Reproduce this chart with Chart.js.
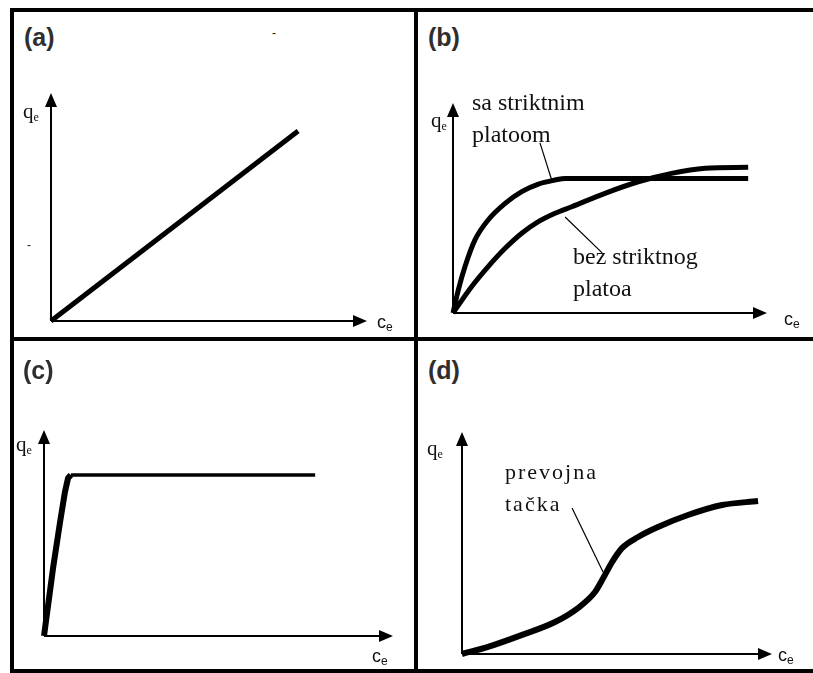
<!DOCTYPE html>
<html>
<head>
<meta charset="utf-8">
<script src="https://cdn.jsdelivr.net/npm/chart.js@4.4.1/dist/chart.umd.min.js"></script>
<style>
  html, body { margin: 0; padding: 0; background: #fff; }
  body { width: 813px; height: 673px; position: relative; overflow: hidden; }
  .rule { position: absolute; background: #000; }
  canvas { position: absolute; }
  .t { position: absolute; white-space: nowrap; color: #111; line-height: 1; }
  .tag { font-family: "Liberation Sans", Arial, sans-serif; font-weight: bold; font-size: 25px; color: #2e2e2e; }
  .note { font-family: "Liberation Serif", "Times New Roman", serif; font-size: 24px; }
  .note2 { font-family: "Liberation Serif", "Times New Roman", serif; font-size: 22px; letter-spacing: 2px; }
  .q { font-family: "Liberation Serif", "Times New Roman", serif; font-size: 21px; }
  .c { font-family: "Liberation Sans", Arial, sans-serif; font-size: 18px; }
  .q sub, .c sub { font-size: 12px; vertical-align: -3px; }
  .speck { font-family: "Liberation Sans", Arial, sans-serif; font-size: 12px; }
</style>
</head>
<body>
<!-- frame and dividers -->
<div class="rule" style="left:10px;top:8px;width:803px;height:4px"></div>
<div class="rule" style="left:10px;top:669px;width:803px;height:4px"></div>
<div class="rule" style="left:10px;top:8px;width:4px;height:665px"></div>
<div class="rule" style="left:414px;top:8px;width:4px;height:665px"></div>
<div class="rule" style="left:10px;top:337px;width:803px;height:4px"></div>

<canvas id="chartA"></canvas>
<canvas id="chartB"></canvas>
<canvas id="chartC"></canvas>
<canvas id="chartD"></canvas>

<!-- panel (a) -->
<div class="t tag" style="left:24px;top:25px">(a)</div>
<div class="t q" style="left:23px;top:101px">q<sub>e</sub></div>
<div class="t c" style="left:377px;top:313px">c<sub>e</sub></div>
<div class="t speck" style="left:272px;top:27px">-</div>
<div class="t speck" style="left:27px;top:239px">-</div>

<!-- panel (b) -->
<div class="t tag" style="left:428px;top:25px">(b)</div>
<div class="t q" style="left:431px;top:110px">q<sub>e</sub></div>
<div class="t c" style="left:784px;top:310px">c<sub>e</sub></div>
<div class="t note" style="left:472px;top:90px">sa striktnim</div>
<div class="t note" style="left:472px;top:122px">platoom</div>
<div class="t note" style="left:573px;top:244px">bez striktnog</div>
<div class="t note" style="left:573px;top:276px">platoa</div>

<!-- panel (c) -->
<div class="t tag" style="left:23px;top:358px">(c)</div>
<div class="t q" style="left:16px;top:434px">q<sub>e</sub></div>
<div class="t c" style="left:372px;top:647px">c<sub>e</sub></div>

<!-- panel (d) -->
<div class="t tag" style="left:428px;top:358px">(d)</div>
<div class="t q" style="left:427px;top:438px">q<sub>e</sub></div>
<div class="t c" style="left:778px;top:646px">c<sub>e</sub></div>
<div class="t note2" style="left:505px;top:461px">prevojna</div>
<div class="t note2" style="left:505px;top:493px">tačka</div>

<script>
// Every panel uses the same 0..100 range on both axes; the arrow tips sit at 100.
const AXIS_MAX = 100;

// (a) linear isotherm
const linearX = [0, 78.2];
const linearY = [0, 83.3];

// (b) curve with a strict plateau
const plateauX = [0, 1.7, 3.8, 7.0, 11.2, 16.6, 21.9, 27.2, 32.5, 35.7, 94.0];
const plateauY = [0, 11.0, 22.0, 34.8, 44.3, 52.2, 57.8, 61.4, 63.3, 64.1, 64.1];
// (b) curve without a strict plateau
const noPlateauX = [0, 5.9, 11.2, 16.6, 21.9, 27.2, 32.5, 37.8, 48.4, 59.0, 69.6, 80.3, 94.0];
const noPlateauY = [0, 12.5, 22.1, 30.8, 38.0, 43.5, 47.5, 50.6, 57.0, 62.5, 66.5, 68.9, 69.4];
// (b) leader lines from the two notes to their curves
const leaderPlateauX = [27.7, 31.5];
const leaderPlateauY = [81.0, 63.0];
const leaderNoPlateauX = [35.7, 47.5];
const leaderNoPlateauY = [45.7, 28.6];

// (c) steep rise, then a flat plateau
const stepX = [0, 2.6, 4.6, 6.0, 6.9, 7.7, 77.7];
const stepY = [0, 33.0, 55.3, 69.9, 76.7, 78.2, 78.2];
const KNEE = 5; // index where the rise meets the plateau

// (d) S-shaped curve with an inflection point
const sigmoidX = [0, 8.4, 19.4, 30.0, 37.4, 42.9, 46.1, 48.4, 51.6, 56.8, 63.2, 72.9, 83.9, 95.5];
const sigmoidY = [0, 3.2, 8.6, 14.4, 20.7, 27.9, 35.6, 41.4, 47.7, 52.7, 57.2, 62.6, 67.1, 68.9];
// (d) leader line from the note to the inflection point
const leaderInflectionX = [35.5, 45.5];
const leaderInflectionY = [65.8, 36.9];

const PAD = 20;

function pts(xs, ys) {
  return xs.map((x, i) => ({ x, y: ys[i] }));
}

// Axis lines with filled arrowheads, placed through the chart's own scales.
const arrowAxes = {
  id: 'arrowAxes',
  beforeDatasetsDraw(chart) {
    const { ctx, scales: { x, y } } = chart;
    const ox = x.getPixelForValue(0), oy = y.getPixelForValue(0);
    const tx = x.getPixelForValue(AXIS_MAX), ty = y.getPixelForValue(AXIS_MAX);
    const len = 14, half = 6;
    ctx.save();
    ctx.strokeStyle = '#000';
    ctx.fillStyle = '#000';
    ctx.lineWidth = 2;
    ctx.beginPath();
    ctx.moveTo(ox, oy); ctx.lineTo(tx - len + 2, oy);
    ctx.moveTo(ox, oy); ctx.lineTo(ox, ty + len - 2);
    ctx.stroke();
    ctx.beginPath();
    ctx.moveTo(tx, oy); ctx.lineTo(tx - len, oy - half); ctx.lineTo(tx - len, oy + half); ctx.closePath();
    ctx.moveTo(ox, ty); ctx.lineTo(ox - half, ty + len); ctx.lineTo(ox + half, ty + len); ctx.closePath();
    ctx.fill();
    ctx.restore();
  }
};

function curve(data, width, smooth) {
  return {
    data,
    borderColor: '#000',
    borderWidth: width,
    pointRadius: 0,
    fill: false,
    clip: false,
    borderJoinStyle: 'round',
    cubicInterpolationMode: smooth ? 'monotone' : 'default',
    tension: 0
  };
}

// origin = pixel position of (0,0); tipX / tipY = pixel positions of the arrow tips
function panel(id, origin, tipX, tipY, datasets) {
  const cv = document.getElementById(id);
  const w = (tipX - origin[0]) + 2 * PAD;
  const h = (origin[1] - tipY) + 2 * PAD;
  cv.width = w; cv.height = h;
  cv.style.left = (origin[0] - PAD) + 'px';
  cv.style.top = (tipY - PAD) + 'px';
  cv.style.width = w + 'px';
  cv.style.height = h + 'px';
  return new Chart(cv, {
    type: 'line',
    data: { datasets },
    options: {
      responsive: false,
      animation: false,
      events: [],
      layout: { padding: PAD },
      plugins: { legend: { display: false }, tooltip: { enabled: false } },
      scales: {
        x: { type: 'linear', min: 0, max: AXIS_MAX, display: false },
        y: { type: 'linear', min: 0, max: AXIS_MAX, display: false }
      }
    },
    plugins: [arrowAxes]
  });
}

panel('chartA', [51, 321], 367, 93, [
  curve(pts(linearX, linearY), 5, false)
]);

panel('chartB', [453, 313], 767, 103, [
  curve(pts(plateauX, plateauY), 5, true),
  curve(pts(noPlateauX, noPlateauY), 5, true),
  curve(pts(leaderPlateauX, leaderPlateauY), 1.2, false),
  curve(pts(leaderNoPlateauX, leaderNoPlateauY), 1.2, false)
]);

panel('chartC', [44, 636], 393, 430, [
  curve(pts(stepX.slice(0, KNEE + 1), stepY.slice(0, KNEE + 1)), 6, false),
  curve(pts(stepX.slice(KNEE), stepY.slice(KNEE)), 3.5, false)
]);

panel('chartD', [462, 654], 772, 432, [
  curve(pts(sigmoidX, sigmoidY), 6, true),
  curve(pts(leaderInflectionX, leaderInflectionY), 1.2, false)
]);
</script>
</body>
</html>
